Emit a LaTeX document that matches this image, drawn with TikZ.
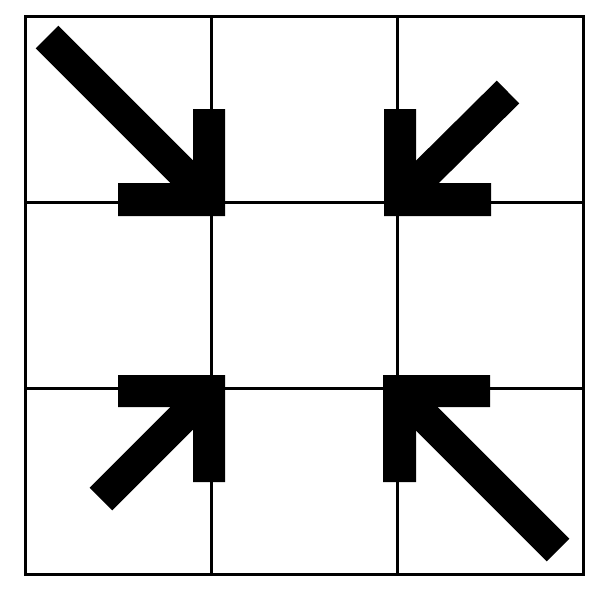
\documentclass[tikz,border=0pt]{standalone}
\begin{document}
\begin{tikzpicture}[x=1pt,y=-1pt,
  gridline/.style={line width=3pt,black,line cap=rect},
  shaft/.style={line width=32pt,black,line cap=butt},
  headfill/.style={fill=black}]
\useasboundingbox (0,0) rectangle (600,600);
% grid
\foreach \v in {25,211,397,583} \draw[gridline] (\v,16) -- (\v,574);
\foreach \h in {16,202,388,574} \draw[gridline] (25,\h) -- (583,\h);
% top-left arrow
\coordinate (tls) at (47,37); \coordinate (tle) at (209,199);
\draw[shaft] (tls) -- (tle);
\fill[headfill] (193,109) -- (225,109) -- (225,216) -- (118,216) -- (118,183) -- (193,183) -- cycle;
% top-right arrow
\coordinate (trs) at (508,92); \coordinate (tre) at (400,199);
\draw[shaft] (trs) -- (tre);
\fill[headfill] (384,109) -- (416,109) -- (416,183) -- (491,183) -- (491,216) -- (384,216) -- cycle;
% bottom-left arrow
\coordinate (bls) at (101,499); \coordinate (ble) at (209,391);
\draw[shaft] (bls) -- (ble);
\fill[headfill] (118,375) -- (225,375) -- (225,482) -- (193,482) -- (193,407) -- (118,407) -- cycle;
% bottom-right arrow
\coordinate (brs) at (558,550); \coordinate (bre) at (399,391);
\draw[shaft] (brs) -- (bre);
\fill[headfill] (383,375) -- (490,375) -- (490,407) -- (416,407) -- (416,482) -- (383,482) -- cycle;
\end{tikzpicture}
\end{document}
